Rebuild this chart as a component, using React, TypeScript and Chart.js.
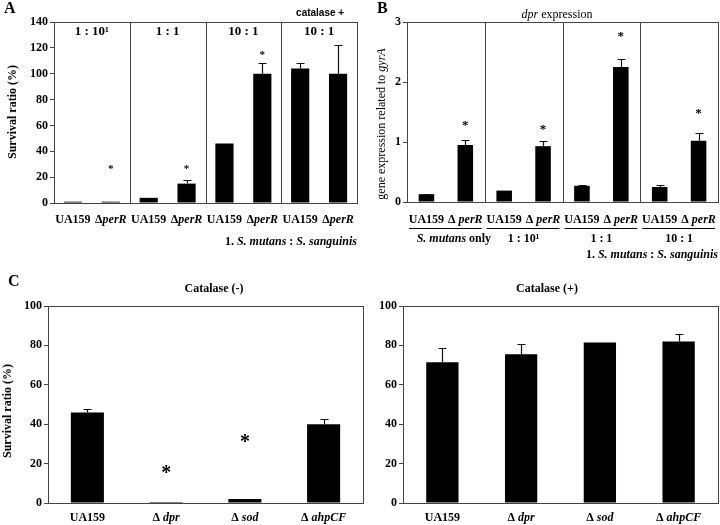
import React, { useEffect, useRef } from 'react';
import { Chart, registerables } from 'chart.js';
Chart.register(...registerables);

const SERIF = '"Liberation Serif", "Times New Roman", Times, serif';
const SANS = '"Liberation Sans", Arial, sans-serif';
const LINE = '#444';
const Y_AXIS_W = 40;

// ---------- Panel A: survival ratio, co-culture ----------
const ratiosA = ['1 : 10¹', '1 : 1', '10 : 1', '10 : 1'];
const strainsAB = ['UA159', 'ΔperR'];
const ua159A = [1, 4, 46, 104];
const ua159ErrA = [0, 0, 0, 4];
const perRA = [1, 15, 100, 100];
const perRErrA = [0, 3, 8, 22];
const starA = [28, 28, 116, null];
const yTicksA = [0, 20, 40, 60, 80, 100, 120, 140];

// ---------- Panel B: dpr expression ----------
const conditionsB = ['S. mutans only', '1 : 10¹', '1 : 1', '10 : 1'];
const ua159B = [0.13, 0.19, 0.27, 0.25];
const ua159ErrB = [0.01, 0, 0.01, 0.03];
const perRB = [0.95, 0.93, 2.25, 1.02];
const perRErrB = [0.09, 0.09, 0.14, 0.13];
const starB = [1.32, 1.25, 2.8, 1.52];
const yTicksB = [0, 1, 2, 3];

// ---------- Panel C: survival ratio, mutants ----------
const strainsC = ['UA159', 'Δdpr', 'Δsod', 'ΔahpCF'];
const catalaseMinus = [46, 0.5, 2, 40];
const catalaseMinusErr = [1.5, 0, 0, 2.5];
const starCMinus = [null, 17, 33, null];
const catalasePlus = [71.5, 75.5, 81.5, 82];
const catalasePlusErr = [7, 5, 0, 3.8];
const starCPlus = [null, null, null, null];
const yTicksC = [0, 20, 40, 60, 80, 100];

type Seg = { t: string; it?: boolean; bold?: boolean };

function segFont(s: Seg, size: number, bold: boolean, family = SERIF) {
  const b = s.bold ?? bold;
  return `${s.it ? 'italic ' : ''}${b ? 'bold ' : ''}${size}px ${family}`;
}

function drawSegs(ctx: CanvasRenderingContext2D, segs: Seg[], x: number, y: number, size: number,
  align: 'left' | 'center' | 'right' = 'center', bold = true, family = SERIF) {
  ctx.save();
  ctx.textBaseline = 'middle';
  ctx.textAlign = 'left';
  ctx.fillStyle = '#000';
  let total = 0;
  const ws = segs.map((s) => {
    ctx.font = segFont(s, size, bold, family);
    const w = ctx.measureText(s.t).width;
    total += w;
    return w;
  });
  let cx = align === 'center' ? x - total / 2 : align === 'right' ? x - total : x;
  segs.forEach((s, i) => {
    ctx.font = segFont(s, size, bold, family);
    ctx.fillText(s.t, cx, y);
    cx += ws[i];
  });
  ctx.restore();
}

function drawRotated(ctx: CanvasRenderingContext2D, segs: Seg[], x: number, y: number, size: number, bold: boolean) {
  ctx.save();
  ctx.translate(x, y);
  ctx.rotate(-Math.PI / 2);
  drawSegs(ctx, segs, 0, 0, size, 'center', bold);
  ctx.restore();
}

function strainSegs(label: string, gap: string): Seg[] {
  if (label.startsWith('Δ')) return [{ t: 'Δ' + gap }, { t: label.slice(1), it: true }];
  return [{ t: label }];
}

function speciesSegs(label: string): Seg[] {
  return label.split(/(S\. [a-z]+)/).filter((p) => p.length > 0).map((p) => ({ t: p, it: /^S\. /.test(p) }));
}

const ratioSpecies = '1. S. mutans : S. sanguinis';

type Series = { name: string; values: number[]; err: number[]; stars?: (number | null)[] };
type Spec = {
  area: { l: number; t: number; r: number; b: number };
  labels: string[];
  series: Series[];
  barPct: number;
  yTicks: number[];
  decor: (chart: Chart, ctx: CanvasRenderingContext2D) => void;
};

function drawStar(ctx: CanvasRenderingContext2D, x: number, y: number, size: number) {
  ctx.save();
  ctx.font = `bold ${size}px ${SERIF}`;
  ctx.textAlign = 'center';
  ctx.textBaseline = 'middle';
  ctx.fillStyle = '#000';
  ctx.fillText('*', x, y + size * 0.22);
  ctx.restore();
}

function dividers(chart: Chart, ctx: CanvasRenderingContext2D) {
  const xs = chart.scales.x;
  const { top, bottom } = chart.chartArea;
  ctx.save();
  ctx.strokeStyle = LINE;
  ctx.lineWidth = 1;
  for (let i = 0; i < chart.data.labels!.length - 1; i++) {
    const x = Math.round((xs.getPixelForValue(i) + xs.getPixelForValue(i + 1)) / 2) + 0.5;
    ctx.beginPath();
    ctx.moveTo(x, top);
    ctx.lineTo(x, bottom);
    ctx.stroke();
  }
  ctx.restore();
}

function buildChart(canvas: HTMLCanvasElement, p: Spec, starSize: number) {
  const overlay = {
    id: 'overlay',
    afterDraw(chart: Chart) {
      const ctx = chart.ctx;
      const ys = chart.scales.y;
      const { left, top, right, bottom } = chart.chartArea;
      ctx.save();
      ctx.strokeStyle = '#111';
      ctx.lineWidth = 1.2;
      p.series.forEach((s, d) => {
        const meta = chart.getDatasetMeta(d);
        s.values.forEach((v, i) => {
          const e = s.err[i];
          if (!e) return;
          const el: any = meta.data[i];
          const x = Math.round(el.x) + 0.5;
          const y0 = ys.getPixelForValue(v);
          const y1 = Math.round(ys.getPixelForValue(v + e)) + 0.5;
          ctx.beginPath();
          ctx.moveTo(x, y0);
          ctx.lineTo(x, y1);
          ctx.moveTo(x - 4, y1);
          ctx.lineTo(x + 4, y1);
          ctx.stroke();
        });
        if (s.stars) {
          s.stars.forEach((sv, i) => {
            if (sv == null) return;
            const el: any = meta.data[i];
            drawStar(ctx, el.x, ys.getPixelForValue(sv), starSize);
          });
        }
      });
      ctx.restore();
      ctx.save();
      ctx.strokeStyle = LINE;
      ctx.lineWidth = 1;
      ctx.strokeRect(Math.round(left) + 0.5, Math.round(top) + 0.5, Math.round(right - left), Math.round(bottom - top));
      ctx.restore();
      p.decor(chart, ctx);
    },
  };
  return new Chart(canvas, {
    type: 'bar',
    data: {
      labels: p.labels,
      datasets: p.series.map((s) => ({
        label: s.name,
        data: s.values,
        backgroundColor: '#000',
        borderWidth: 0,
        categoryPercentage: 1,
        barPercentage: p.barPct,
      })),
    },
    options: {
      animation: false,
      responsive: false,
      events: [],
      layout: {
        padding: { left: p.area.l - Y_AXIS_W, top: p.area.t, right: 720 - p.area.r, bottom: 525 - p.area.b },
        autoPadding: false,
      } as any,
      plugins: { legend: { display: false }, tooltip: { enabled: false }, title: { display: false } },
      scales: {
        x: {
          type: 'category',
          offset: true,
          grid: { display: false },
          border: { display: false },
          ticks: { display: false },
          afterFit: (s: any) => { s.height = 0; },
        },
        y: {
          min: p.yTicks[0],
          max: p.yTicks[p.yTicks.length - 1],
          afterBuildTicks: (s: any) => { s.ticks = p.yTicks.map((v) => ({ value: v })); },
          grid: { display: true, drawOnChartArea: false, drawTicks: true, tickLength: 4, color: LINE, lineWidth: 1 },
          border: { display: false },
          ticks: { color: '#000', font: { family: SERIF, size: 12, weight: 'bold' }, padding: 2, autoSkip: false },
          afterFit: (s: any) => { s.width = Y_AXIS_W; },
        },
      },
    } as any,
    plugins: [overlay],
  });
}

const specA: Spec = {
  area: { l: 54, t: 22, r: 357, b: 203 },
  labels: ratiosA,
  series: [
    { name: strainsAB[0], values: ua159A, err: ua159ErrA },
    { name: strainsAB[1], values: perRA, err: perRErrA, stars: starA },
  ],
  barPct: 0.48,
  yTicks: yTicksA,
  decor(chart, ctx) {
    dividers(chart, ctx);
    const xs = chart.scales.x;
    ratiosA.forEach((r, i) => drawSegs(ctx, [{ t: r }], xs.getPixelForValue(i), 32, 13));
    drawSegs(ctx, [{ t: 'catalase +' }], xs.getPixelForValue(3) + 1, 13, 10, 'center', true, SANS);
    strainsAB.forEach((name, d) => {
      const meta = chart.getDatasetMeta(d);
      meta.data.forEach((el: any) => drawSegs(ctx, strainSegs(name, ''), el.x, 220, 12));
    });
    drawSegs(ctx, speciesSegs(ratioSpecies), 357, 242, 12, 'right');
    drawRotated(ctx, [{ t: 'Survival ratio (%)' }], 13, 112, 12, true);
    drawSegs(ctx, [{ t: 'A' }], 4, 9, 16, 'left');
  },
};

const specB: Spec = {
  area: { l: 407, t: 22, r: 718, b: 202 },
  labels: conditionsB,
  series: [
    { name: strainsAB[0], values: ua159B, err: ua159ErrB },
    { name: strainsAB[1], values: perRB, err: perRErrB, stars: starB },
  ],
  barPct: 0.4,
  yTicks: yTicksB,
  decor(chart, ctx) {
    dividers(chart, ctx);
    const xs = chart.scales.x;
    const { left, right } = chart.chartArea;
    strainsAB.forEach((name, d) => {
      const meta = chart.getDatasetMeta(d);
      meta.data.forEach((el: any) => drawSegs(ctx, strainSegs(name, ' '), el.x, 220, 12));
    });
    const n = conditionsB.length;
    ctx.save();
    ctx.strokeStyle = '#000';
    ctx.lineWidth = 1;
    conditionsB.forEach((c, i) => {
      const a = i === 0 ? left : (xs.getPixelForValue(i - 1) + xs.getPixelForValue(i)) / 2;
      const b = i === n - 1 ? right : (xs.getPixelForValue(i) + xs.getPixelForValue(i + 1)) / 2;
      ctx.beginPath();
      ctx.moveTo(a + 2, 228.5);
      ctx.lineTo(b - 3, 228.5);
      ctx.stroke();
      drawSegs(ctx, speciesSegs(c), xs.getPixelForValue(i) + (i === 0 ? 8 : 0), 239, 12);
    });
    ctx.restore();
    drawSegs(ctx, speciesSegs(ratioSpecies), 718, 255, 12, 'right');
    drawRotated(ctx, [{ t: 'gene expression related to ' }, { t: 'gyrA', it: true }], 382, 124, 12, false);
    drawSegs(ctx, [{ t: 'dpr', it: true }, { t: ' expression' }], 557, 15, 12, 'center', false);
    drawSegs(ctx, [{ t: 'B' }], 377, 9, 16, 'left');
  },
};

const specCMinus: Spec = {
  area: { l: 48, t: 306, r: 363, b: 503 },
  labels: strainsC,
  series: [{ name: 'Catalase (-)', values: catalaseMinus, err: catalaseMinusErr, stars: starCMinus }],
  barPct: 0.42,
  yTicks: yTicksC,
  decor(chart, ctx) {
    const meta = chart.getDatasetMeta(0);
    meta.data.forEach((el: any, i: number) => drawSegs(ctx, strainSegs(strainsC[i], ' '), el.x, 518, 12));
    drawSegs(ctx, [{ t: 'Catalase (-)' }], 214, 289, 12);
    drawRotated(ctx, [{ t: 'Survival ratio (%)' }], 8, 411, 12, true);
    drawSegs(ctx, [{ t: 'C' }], 8, 282, 16, 'left');
  },
};

const specCPlus: Spec = {
  area: { l: 403, t: 306, r: 718, b: 503 },
  labels: strainsC,
  series: [{ name: 'Catalase (+)', values: catalasePlus, err: catalasePlusErr, stars: starCPlus }],
  barPct: 0.41,
  yTicks: yTicksC,
  decor(chart, ctx) {
    const meta = chart.getDatasetMeta(0);
    meta.data.forEach((el: any, i: number) => drawSegs(ctx, strainSegs(strainsC[i], ' '), el.x, 518, 12));
    drawSegs(ctx, [{ t: 'Catalase (+)' }], 547, 289, 12);
  },
};

export default function App() {
  const refA = useRef<HTMLCanvasElement>(null);
  const refB = useRef<HTMLCanvasElement>(null);
  const refC1 = useRef<HTMLCanvasElement>(null);
  const refC2 = useRef<HTMLCanvasElement>(null);

  useEffect(() => {
    const charts = [
      buildChart(refA.current!, specA, 11),
      buildChart(refB.current!, specB, 13),
      buildChart(refC1.current!, specCMinus, 20),
      buildChart(refC2.current!, specCPlus, 20),
    ];
    return () => charts.forEach((c) => c.destroy());
  }, []);

  const cs: React.CSSProperties = { position: 'absolute', left: 0, top: 0, width: 720, height: 525 };
  return (
    <div style={{ position: 'fixed', left: 0, top: 0, width: 720, height: 525, background: '#fff', overflow: 'hidden' }}>
      <canvas ref={refA} width={720} height={525} style={cs} />
      <canvas ref={refB} width={720} height={525} style={cs} />
      <canvas ref={refC1} width={720} height={525} style={cs} />
      <canvas ref={refC2} width={720} height={525} style={cs} />
    </div>
  );
}
